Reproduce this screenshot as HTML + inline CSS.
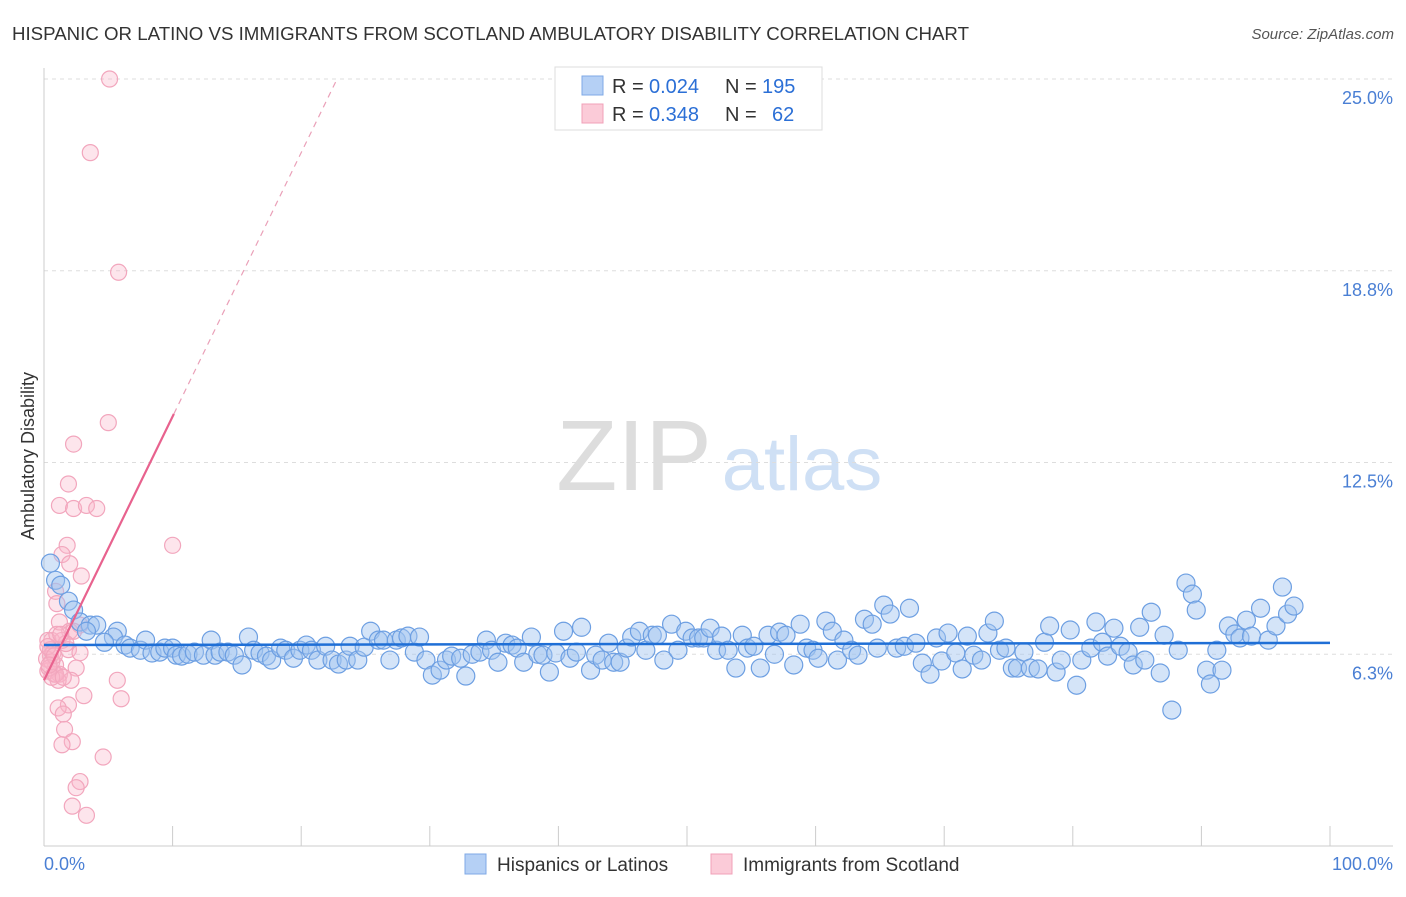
<!DOCTYPE html>
<html><head><meta charset="utf-8"><style>
body{margin:0;background:#fff;font-family:"Liberation Sans",sans-serif}
svg text{font-family:"Liberation Sans",sans-serif}
</style></head><body>
<svg id="chart" width="1406" height="892" xmlns="http://www.w3.org/2000/svg">
<text x="12" y="40" font-size="18" fill="#333" textLength="957" lengthAdjust="spacingAndGlyphs">HISPANIC OR LATINO VS IMMIGRANTS FROM SCOTLAND AMBULATORY DISABILITY CORRELATION CHART</text>
<text x="1394" y="39" font-size="15" fill="#555" font-style="italic" text-anchor="end">Source: ZipAtlas.com</text>
<g>
<text x="634" y="490" font-size="100" fill="#ddd" font-family="Liberation Serif,serif" text-anchor="middle">ZIP</text>
<text x="802" y="490" font-size="76" fill="#cfe0f5" text-anchor="middle">atlas</text>
</g>
<g id="grid"></g>
<g id="axes"></g>
<g id="pinkpts"></g>
<g id="bluepts"></g>
<g id="lines"></g>
<text transform="translate(34,456) rotate(-90)" font-size="18" fill="#333" text-anchor="middle">Ambulatory Disability</text>
<text x="44" y="870" font-size="18" fill="#4a7fd4">0.0%</text>
<text x="1393" y="870" font-size="18" fill="#4a7fd4" text-anchor="end">100.0%</text>
<g>
<rect x="555" y="67" width="267" height="63" fill="#fff" stroke="#ddd"/>
<rect x="582" y="76" width="21" height="19" fill="#b5d0f5" stroke="#7fa9e6"/>
<rect x="582" y="104" width="21" height="19" fill="#fbcbd8" stroke="#f0a0b8"/>
<text x="612" y="93" font-size="20" fill="#333">R =</text>
<text x="649" y="93" font-size="20" fill="#2b6fd6">0.024</text>
<text x="725" y="93" font-size="20" fill="#333">N =</text>
<text x="762" y="93" font-size="20" fill="#2b6fd6">195</text>
<text x="612" y="121" font-size="20" fill="#333">R =</text>
<text x="649" y="121" font-size="20" fill="#2b6fd6">0.348</text>
<text x="725" y="121" font-size="20" fill="#333">N =</text>
<text x="772" y="121" font-size="20" fill="#2b6fd6">62</text>
</g>
<g>
<rect x="465" y="854" width="21" height="20" fill="#b5d0f5" stroke="#7fa9e6"/>
<text x="497" y="871" font-size="19" fill="#333">Hispanics or Latinos</text>
<rect x="711" y="854" width="21" height="20" fill="#fbcbd8" stroke="#f0a0b8"/>
<text x="743" y="871" font-size="19" fill="#333">Immigrants from Scotland</text>
</g>
</svg>
<script>
const yTicks=[6.25,12.5,18.75,25];
const yTickLabels=["6.3%","12.5%","18.8%","25.0%"];
const xTicks=[0,10,20,30,40,50,60,70,80,90,100];
const blueX=[0.5,0.9,1.3,1.9,2.3,2.8,3.6,4.1,3.3,5.7,5.4,4.7,6.3,6.7,7.5,7.9,8.4,9.0,9.4,10,10.3,10.7,11.2,11.7,12.4,13,13.3,13.7,14.3,14.8,15.4,15.9,16.3,16.8,17.3,17.7,18.4,18.8,19.4,19.9,20.4,20.8,21.3,21.9,22.4,22.9,23.5,23.8,24.4,24.9,25.4,26,26.4,26.9,27.4,27.8,28.3,28.8,29.2,29.7,30.2,30.8,31.3,31.7,32.4,32.8,33.3,33.9,34.4,34.8,35.3,35.9,36.4,36.8,37.3,37.9,38.4,38.8,39.3,39.8,40.4,40.9,41.4,41.8,42.5,42.9,43.4,43.9,44.3,44.8,45.3,45.7,46.3,46.8,47.3,47.7,48.2,48.8,49.3,49.9,50.4,50.9,51.3,51.8,52.3,52.7,53.2,53.8,54.3,54.7,55.2,55.7,56.3,56.8,57.2,57.7,58.3,58.8,59.3,59.8,60.2,60.8,61.3,61.7,62.2,62.8,63.3,63.8,64.4,64.8,65.3,65.8,66.3,66.9,67.3,67.8,68.3,68.9,69.4,69.8,70.3,70.9,71.4,71.8,72.3,72.9,73.4,73.9,74.3,74.8,75.3,75.7,76.2,76.7,77.3,77.8,78.2,78.7,79.1,79.8,80.3,80.7,81.4,81.8,82.3,82.7,83.2,83.7,84.3,84.7,85.2,85.6,86.1,86.8,87.1,87.7,88.2,88.8,89.3,89.6,90.4,90.7,91.2,91.6,92.1,92.6,93.0,93.5,93.9,94.6,95.2,95.8,96.3,96.7,97.2];
const blueY=[9.22,8.66,8.5,7.98,7.69,7.3,7.2,7.2,7.0,7.0,6.81,6.64,6.55,6.45,6.38,6.71,6.29,6.32,6.45,6.45,6.22,6.19,6.25,6.32,6.22,6.71,6.22,6.32,6.32,6.22,5.9,6.81,6.38,6.29,6.19,6.06,6.45,6.38,6.12,6.38,6.55,6.38,6.06,6.51,6.06,5.93,6.06,6.51,6.06,6.48,7.0,6.71,6.71,6.06,6.71,6.78,6.84,6.32,6.81,6.06,5.57,5.73,6.06,6.19,6.12,5.54,6.25,6.32,6.71,6.38,5.99,6.61,6.55,6.45,5.99,6.81,6.25,6.22,5.67,6.29,7.0,6.12,6.32,7.13,5.73,6.22,6.06,6.61,5.99,5.99,6.45,6.81,7.0,6.38,6.87,6.87,6.06,7.23,6.38,7.0,6.78,6.78,6.78,7.1,6.38,6.84,6.38,5.8,6.87,6.45,6.51,5.8,6.87,6.25,6.97,6.87,5.9,7.23,6.45,6.38,6.12,7.33,7.0,6.06,6.71,6.38,6.22,7.39,7.23,6.45,7.85,7.56,6.45,6.51,7.75,6.61,5.96,5.6,6.78,6.03,6.94,6.29,5.77,6.84,6.22,6.06,6.94,7.33,6.38,6.45,5.8,5.8,6.32,5.8,5.77,6.64,7.17,5.67,6.06,7.04,5.24,6.06,6.45,7.3,6.64,6.19,7.1,6.51,6.32,5.9,7.13,6.06,7.62,5.64,6.87,4.43,6.38,8.57,8.21,7.69,5.73,5.28,6.38,5.73,7.17,6.91,6.78,7.36,6.84,7.75,6.71,7.17,8.44,7.56,7.82];
const pinkX=[5.1,3.6,5.8,5.0,2.3,1.9,1.2,2.3,3.3,4.1,10.0,1.8,1.4,2.0,2.9,0.9,1.0,1.2,2.0,2.8,0.6,1.4,2.3,1.9,2.8,0.5,0.9,0.3,0.8,2.5,1.2,2.1,5.7,1.1,3.1,6.0,1.9,1.1,1.5,1.6,2.2,1.4,4.6,2.8,2.5,2.2,3.3,0.3,0.5,0.2,0.6,0.9,1.7,0.4,0.7,1.0,0.3,0.6,1.3,0.8,0.4,1.5];
const pinkY=[25.0,22.6,18.7,13.8,13.1,11.8,11.1,11.0,11.1,11.0,9.8,9.8,9.5,9.2,8.8,8.3,7.9,7.3,7.0,7.2,6.7,6.7,7.0,6.4,6.3,6.2,5.9,5.7,5.6,5.8,5.6,5.4,5.4,5.4,4.9,4.8,4.6,4.5,4.3,3.8,3.4,3.3,2.9,2.1,1.9,1.3,1.0,6.7,6.4,6.1,6.0,5.6,6.6,5.8,6.3,6.9,6.5,5.5,6.9,6.2,5.9,5.5];
const blueTrend=[6.55,6.62];
const pinkTrend=[5.4,0.86];
const NS="http://www.w3.org/2000/svg";
const X0=44,X1=1330,Y0=846,YK=30.68;
function xs(v){return X0+(X1-X0)*v/100;}
function ys(v){return Y0-v*YK;}
function mk(tag,attrs,parent){const e=document.createElementNS(NS,tag);for(const k in attrs)e.setAttribute(k,attrs[k]);parent.appendChild(e);return e;}
const grid=document.getElementById('grid'),axes=document.getElementById('axes');
yTicks.forEach((t,i)=>{
 const l=mk('line',{x1:X0,x2:1393,y1:ys(t),y2:ys(t),stroke:'#ddd','stroke-dasharray':'4,4'},grid);
 
 
 const tx=mk('text',{x:1393,y:ys(t)+25,'font-size':18,fill:'#4a7fd4','text-anchor':'end'},grid);
 tx.textContent=yTickLabels[i];
 
 
});
const ya=mk('line',{x1:X0,x2:X0,y1:68,y2:846,stroke:'#ccc'},axes);


const xa=mk('line',{x1:X0,x2:1393,y1:846,y2:846,stroke:'#ccc'},axes);


xTicks.forEach(t=>{
 const l=mk('line',{x1:xs(t),x2:xs(t),y1:826,y2:846,stroke:'#ccc'},axes);
 
 
});
const pg=document.getElementById('pinkpts');
pinkX.forEach((x,i)=>{
 const c=mk('circle',{cx:xs(x),cy:ys(pinkY[i]),r:8,fill:'rgba(248,180,200,0.35)',stroke:'#f2a6bd','stroke-width':1.2},pg);
 
 
});
const bg=document.getElementById('bluepts');
blueX.forEach((x,i)=>{
 const c=mk('circle',{cx:xs(x),cy:ys(blueY[i]),r:9,fill:'rgba(160,196,240,0.45)',stroke:'#6d9fe2','stroke-width':1.2},bg);
 
 
});
const lg=document.getElementById('lines');
const bl=mk('line',{x1:xs(0),x2:xs(100),y1:ys(blueTrend[0]),y2:ys(blueTrend[1]),stroke:'#1f6fd6','stroke-width':2.5},lg);


const pxEnd=10.1,pxDash=(25-pinkTrend[0])/pinkTrend[1];
const pl=mk('line',{x1:xs(0),x2:xs(pxEnd),y1:ys(pinkTrend[0]),y2:ys(pinkTrend[0]+pinkTrend[1]*pxEnd),stroke:'#e8628e','stroke-width':2.2},lg);


const pd=mk('line',{x1:xs(pxEnd),x2:xs(pxDash),y1:ys(pinkTrend[0]+pinkTrend[1]*pxEnd),y2:ys(25),stroke:'#eaa0b8','stroke-width':1.2,'stroke-dasharray':'6,5'},lg);


</script>
</body></html>
